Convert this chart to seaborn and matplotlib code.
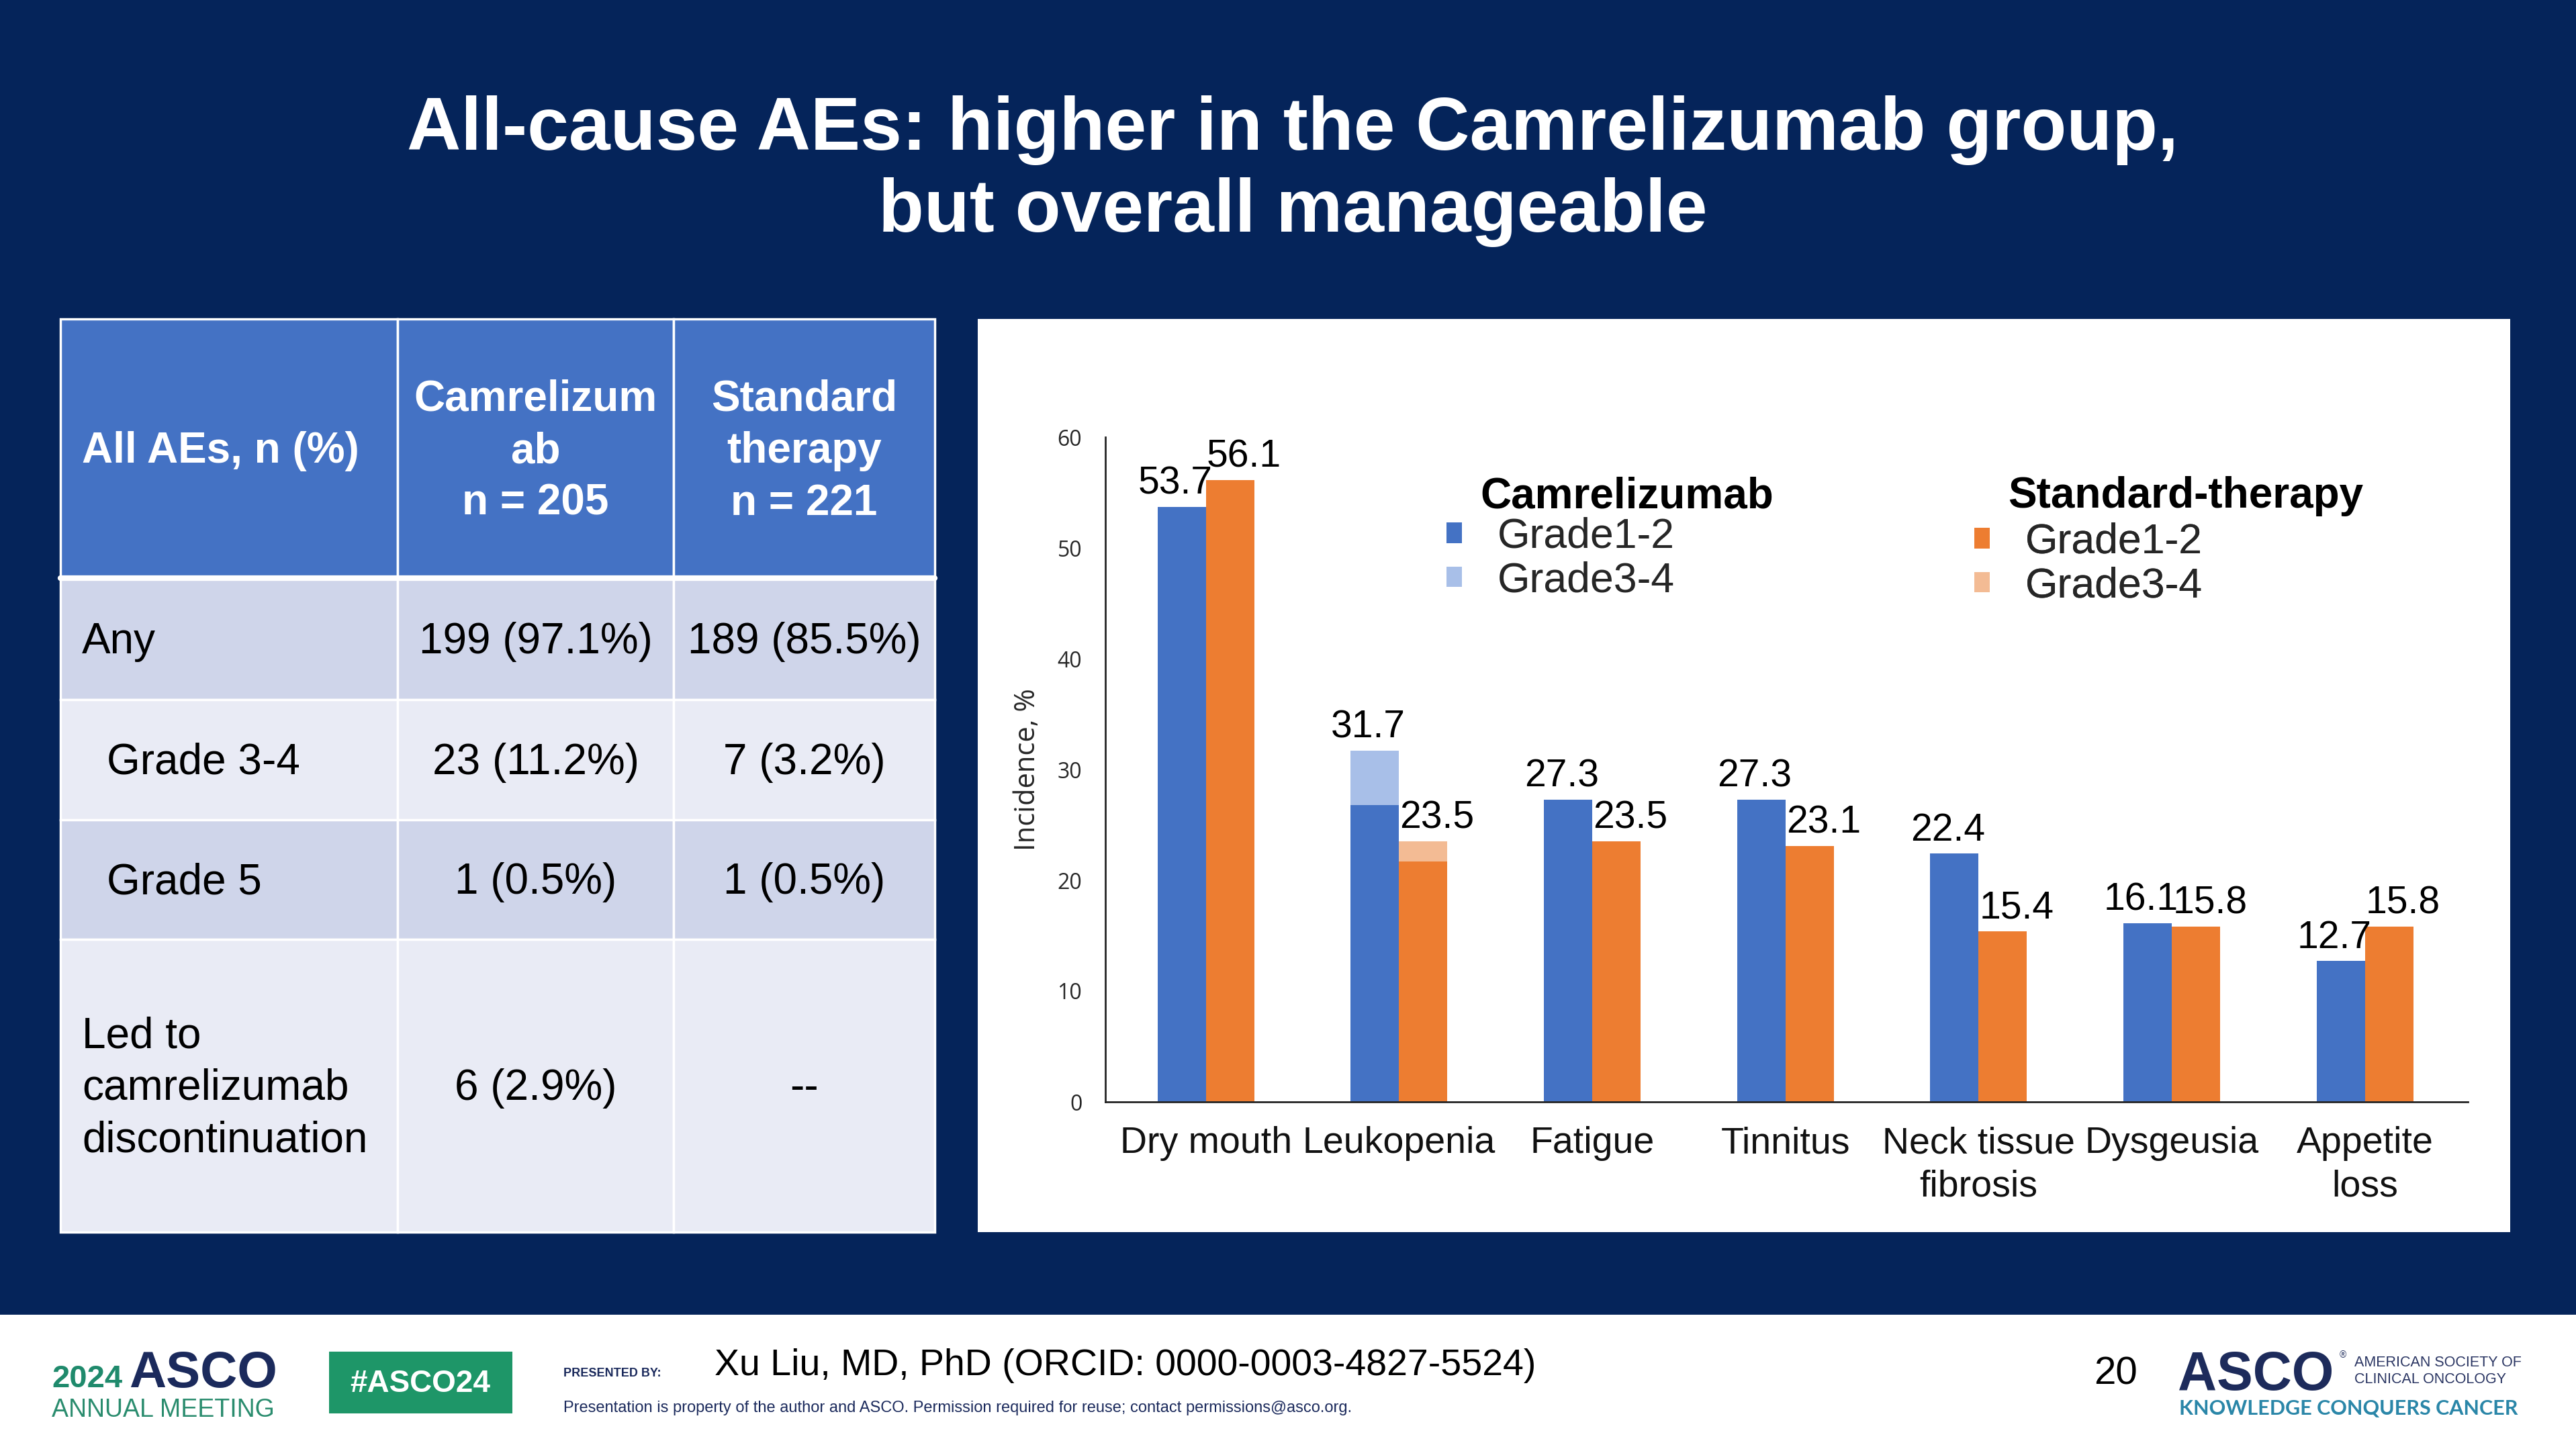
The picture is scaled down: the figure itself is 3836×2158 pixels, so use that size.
import matplotlib
matplotlib.use('Agg')
import matplotlib.pyplot as plt
import seaborn as sns
import pandas as pd
from matplotlib.patches import Rectangle, Patch

W, H = 3836, 2158

# ===== data =====
categories = ['Dry mouth', 'Leukopenia', 'Fatigue', 'Tinnitus',
              'Neck tissue\nfibrosis', 'Dysgeusia', 'Appetite\nloss']
groups = ['Camrelizumab', 'Standard-therapy']
cam_total = [53.7, 31.7, 27.3, 27.3, 22.4, 16.1, 12.7]
cam_grade34 = [0.0, 4.9, 0.0, 0.0, 0.0, 0.0, 0.0]
std_total = [56.1, 23.5, 23.5, 23.1, 15.4, 15.8, 15.8]
std_grade34 = [0.0, 1.8, 0.0, 0.0, 0.0, 0.0, 0.0]
grade_labels = ['Grade1-2', 'Grade3-4']
y_ticks = [0, 10, 20, 30, 40, 50, 60]

tbl_header = ['All AEs, n (%)', 'Camrelizum\nab\nn = 205', 'Standard\ntherapy\nn = 221']
tbl_rows = ['Any', 'Grade 3-4', 'Grade 5', 'Led to\ncamrelizumab\ndiscontinuation']
tbl_cam = ['199 (97.1%)', '23 (11.2%)', '1 (0.5%)', '6 (2.9%)']
tbl_std = ['189 (85.5%)', '7 (3.2%)', '1 (0.5%)', '--']
tbl_indent = [False, True, True, False]

rows = []
for i, c in enumerate(categories):
    rows.append({'AE': c, 'group': groups[0], 'total': cam_total[i],
                 'g12': round(cam_total[i] - cam_grade34[i], 1)})
    rows.append({'AE': c, 'group': groups[1], 'total': std_total[i],
                 'g12': round(std_total[i] - std_grade34[i], 1)})
df = pd.DataFrame(rows)

# ===== colours =====
NAVY = '#05245A'
BLUE, BLUE_L = '#4472C4', '#A8BFE8'
ORANGE, ORANGE_L = '#ED7D31', '#F3BB94'
dark_pal = {groups[0]: BLUE, groups[1]: ORANGE}
light_pal = {groups[0]: BLUE_L, groups[1]: ORANGE_L}

sns.set_style('white')
plt.rcParams['font.family'] = ['Liberation Sans', 'DejaVu Sans']

fig = plt.figure(figsize=(W / 100, H / 100), dpi=100, facecolor=NAVY)

# background layer in pixel coordinates
bg = fig.add_axes([0, 0, 1, 1])
bg.set_xlim(0, W)
bg.set_ylim(H, 0)
bg.axis('off')

# title
bg.text(1925, 223, 'All-cause AEs: higher in the Camrelizumab group,', ha='center', va='baseline',
        fontsize=80, weight='bold', color='white')
bg.text(1925, 345, 'but overall manageable', ha='center', va='baseline',
        fontsize=80, weight='bold', color='white')

# ===== table =====
col_edges = [90, 592, 1003, 1392]
row_edges = [475, 861, 1042, 1221, 1399, 1835]
row_fill = ['#CFD5EA', '#E9EBF5', '#CFD5EA', '#E9EBF5']

for j in range(3):
    x0, x1 = col_edges[j], col_edges[j + 1]
    bg.add_patch(Rectangle((x0, row_edges[0]), x1 - x0, row_edges[1] - row_edges[0],
                           facecolor='#4472C4', edgecolor='white', lw=2.5))
    for r in range(4):
        y0, y1 = row_edges[r + 1], row_edges[r + 2]
        bg.add_patch(Rectangle((x0, y0), x1 - x0, y1 - y0,
                               facecolor=row_fill[r], edgecolor='white', lw=2.5))
bg.plot([col_edges[0], col_edges[-1]], [row_edges[1], row_edges[1]], color='white', lw=6)

hy = (row_edges[0] + row_edges[1]) / 2 + 4
bg.text(122, hy, tbl_header[0], ha='left', va='center', fontsize=46, weight='bold', color='white')
for j in (1, 2):
    cx = (col_edges[j] + col_edges[j + 1]) / 2
    bg.text(cx, hy, tbl_header[j], ha='center', va='center', fontsize=46, weight='bold',
            color='white', linespacing=1.38, multialignment='center')

for r in range(4):
    cy = (row_edges[r + 1] + row_edges[r + 2]) / 2 + 4
    bg.text(159 if tbl_indent[r] else 122, cy, tbl_rows[r], ha='left', va='center',
            fontsize=46, color='black', linespacing=1.38)
    bg.text((col_edges[1] + col_edges[2]) / 2, cy, tbl_cam[r], ha='center', va='center',
            fontsize=46, color='black')
    bg.text((col_edges[2] + col_edges[3]) / 2, cy, tbl_std[r], ha='center', va='center',
            fontsize=46, color='black')

# chart panel
bg.add_patch(Rectangle((1456, 475), 3738 - 1456, 1835 - 475, facecolor='white', lw=0))

# footer
bg.add_patch(Rectangle((0, 1958), W, H - 1958, facecolor='white', lw=0))
bg.text(77, 2066, '2024', ha='left', va='baseline', fontsize=34, weight='bold', color='#1F8A6C')
bg.text(192, 2066, 'ASCO', ha='left', va='baseline', fontsize=55, weight='bold', color='#1B2A5C')
bg.text(77, 2110, 'ANNUAL MEETING', ha='left', va='baseline', fontsize=27, color='#2A8C6E')
bg.add_patch(Rectangle((490, 2013), 273, 92, facecolor='#1E9668', lw=0))
bg.text(626, 2061, '#ASCO24', ha='center', va='center', fontsize=33, weight='bold', color='white')
bg.text(839, 2050, 'PRESENTED BY:', ha='left', va='baseline', fontsize=13, weight='bold', color='#1B2A5C')
bg.text(1064, 2048, 'Xu Liu, MD, PhD (ORCID: 0000-0003-4827-5524)', ha='left', va='baseline',
        fontsize=40, color='black')
bg.text(839, 2103, 'Presentation is property of the author and ASCO. Permission required for reuse; '
        'contact permissions@asco.org.', ha='left', va='baseline', fontsize=17, color='#1B2A5C')
bg.text(3118, 2062, '20', ha='left', va='baseline', fontsize=42, color='black')
bg.text(3243, 2070, 'ASCO', ha='left', va='baseline', fontsize=58, weight='bold', color='#1D2B5B')
bg.text(3484, 2022, '®', ha='left', va='baseline', fontsize=10, color='#1D2B5B')
bg.text(3506, 2035, 'AMERICAN SOCIETY OF', ha='left', va='baseline', fontsize=15.5, color='#2B3663')
bg.text(3506, 2060, 'CLINICAL ONCOLOGY', ha='left', va='baseline', fontsize=15.5, color='#2B3663')
bg.text(3245, 2107, 'KNOWLEDGE CONQUERS CANCER', ha='left', va='baseline', fontsize=22,
        weight='bold', color='#2A86A8', family=['Lato', 'DejaVu Sans'])

# ===== bar chart =====
ax = fig.add_axes([1646 / W, 1 - 1641 / H, (3675 - 1646) / W, (1641 - 651) / H])
sns.barplot(data=df, x='AE', y='total', hue='group', order=categories, hue_order=groups,
            palette=light_pal, saturation=1, width=0.5, linewidth=0, errorbar=None,
            legend=False, ax=ax)
sns.barplot(data=df, x='AE', y='g12', hue='group', order=categories, hue_order=groups,
            palette=dark_pal, saturation=1, width=0.5, linewidth=0, errorbar=None,
            legend=False, ax=ax)

# value labels on top of each total bar
for k, cont in enumerate(ax.containers[:2]):
    dx = -7 if k == 0 else 15
    for bar in cont:
        ax.annotate(f'{bar.get_height():.1f}', (bar.get_x() + bar.get_width() / 2, bar.get_height()),
                    xytext=(dx, 14), textcoords='offset points', ha='center', va='baseline',
                    fontsize=41, color='black')

ax.set_xlim(-0.52, 6.533)
ax.set_ylim(0, 60)
ax.set_yticks(y_ticks)
ax.set_facecolor('white')
ax.set_xlabel('')
ax.set_ylabel('Incidence, %', fontsize=30, color='#262626', family=['Open Sans', 'DejaVu Sans'])
ax.yaxis.set_label_coords(-0.047, 0.5)
ax.tick_params(axis='x', length=0, pad=26, labelsize=40, labelcolor='#111111')
for lab in ax.get_xticklabels():
    lab.set_linespacing(1.3)
ax.tick_params(axis='y', direction='out', length=7, width=1.5, color='#262626', pad=18,
               labelsize=23, labelcolor='#262626')
for lab in ax.get_yticklabels():
    lab.set_family(['Open Sans', 'DejaVu Sans'])
sns.despine(ax=ax)
for s in ('left', 'bottom'):
    ax.spines[s].set_color('#262626')
    ax.spines[s].set_linewidth(2)

# legends
def px(x, y):
    return (x / W, 1 - y / H)

leg_kw = dict(loc='upper left', bbox_transform=fig.transFigure, frameon=False, fontsize=45,
              handlelength=0.37, handleheight=0.38, handletextpad=0.85, labelspacing=0.1,
              borderpad=0, borderaxespad=0)
leg1 = ax.legend(handles=[Patch(facecolor=BLUE, lw=0), Patch(facecolor=BLUE_L, lw=0)],
                 labels=grade_labels, bbox_to_anchor=px(2154, 770), **leg_kw)
ax.add_artist(leg1)
leg2 = ax.legend(handles=[Patch(facecolor=ORANGE, lw=0), Patch(facecolor=ORANGE_L, lw=0)],
                 labels=grade_labels, bbox_to_anchor=px(2940, 778), **leg_kw)
ax.add_artist(leg2)
fig.text(*px(2204, 756), groups[0], ha='left', va='baseline', fontsize=46, weight='bold', color='black')
fig.text(*px(2990, 756), groups[1], ha='left', va='baseline', fontsize=46, weight='bold', color='black')

fig.savefig('out.png', dpi=100, facecolor=fig.get_facecolor())
